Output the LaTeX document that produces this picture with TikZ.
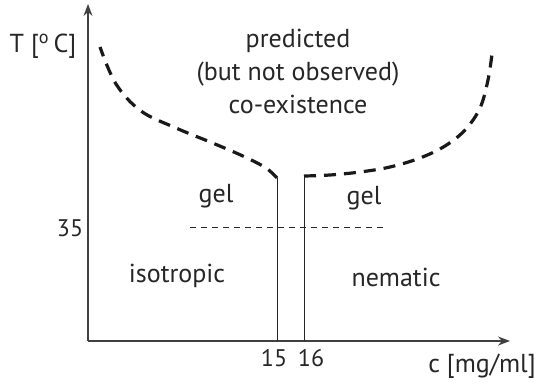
\documentclass[tikz,border=0pt]{standalone}
\usepackage{fontspec}
\setmainfont{PT Sans}
\usetikzlibrary{arrows.meta}
\begin{document}
\begin{tikzpicture}[x=1pt,y=-1pt,
  lbl/.style={font=\fontsize{26}{33}\selectfont, text=black!85, inner sep=0pt},
  tick/.style={font=\fontsize{24}{28}\selectfont, text=black!85, inner sep=0pt},
  axis/.style={line width=1.4pt, black!75, -{Stealth[length=12pt,width=9pt]}},
  phase/.style={line width=1pt, black!85},
  boundary/.style={line width=3.2pt, black!90, dash pattern=on 12pt off 8pt},
  thin dash/.style={line width=0.9pt, black!85, dash pattern=on 6pt off 5pt}]
\useasboundingbox (0,0) rectangle (540,383);
\coordinate (O) at (88,341);
\coordinate (ytop) at (88,4);
\coordinate (xend) at (510,341);
\draw[axis] (O) -- (ytop);
\draw[axis] (O) -- (xend);
% phase lines
\coordinate (a0) at (277,341);
\coordinate (a1) at (277,178);
\coordinate (b0) at (304,341);
\coordinate (b1) at (304,176);
\draw[phase] (a0) -- (a1);
\draw[phase] (b0) -- (b1);
% 35 line
\coordinate (d0) at (190,227);
\coordinate (d1) at (386,227);
\draw[thin dash] (d0) -- (d1);
% boundaries
\draw[boundary] plot[smooth, tension=0.6] coordinates {(277,178) (266,168) (245,157) (215,144) (176,128) (141,111) (116,84) (100,47)};
\draw[boundary] plot[smooth, tension=0.6] coordinates {(304,176) (330,175) (360,172) (390,167) (420,158) (445,146) (465,130) (480,108) (488,80) (492,54)};
% labels
\node[lbl] (ylab) at (43,46) {T [\textsuperscript{o}\,C]};
\node[lbl, align=center] (pred) at (298,71) {predicted\\(but not observed)\\co-existence};
\node[lbl] (gelL) at (216,196) {gel};
\node[lbl] (gelR) at (364,198) {gel};
\node[lbl] (iso) at (177,276) {isotropic};
\node[lbl] (nem) at (396,277) {nematic};
\node[tick] (t35) at (70,228) {35};
\node[tick] (t15) at (274,358) {15};
\node[tick] (t16) at (311,358) {16};
\node[lbl] (xlab) at (482,366) {c [mg/ml]};
\end{tikzpicture}
\end{document}
